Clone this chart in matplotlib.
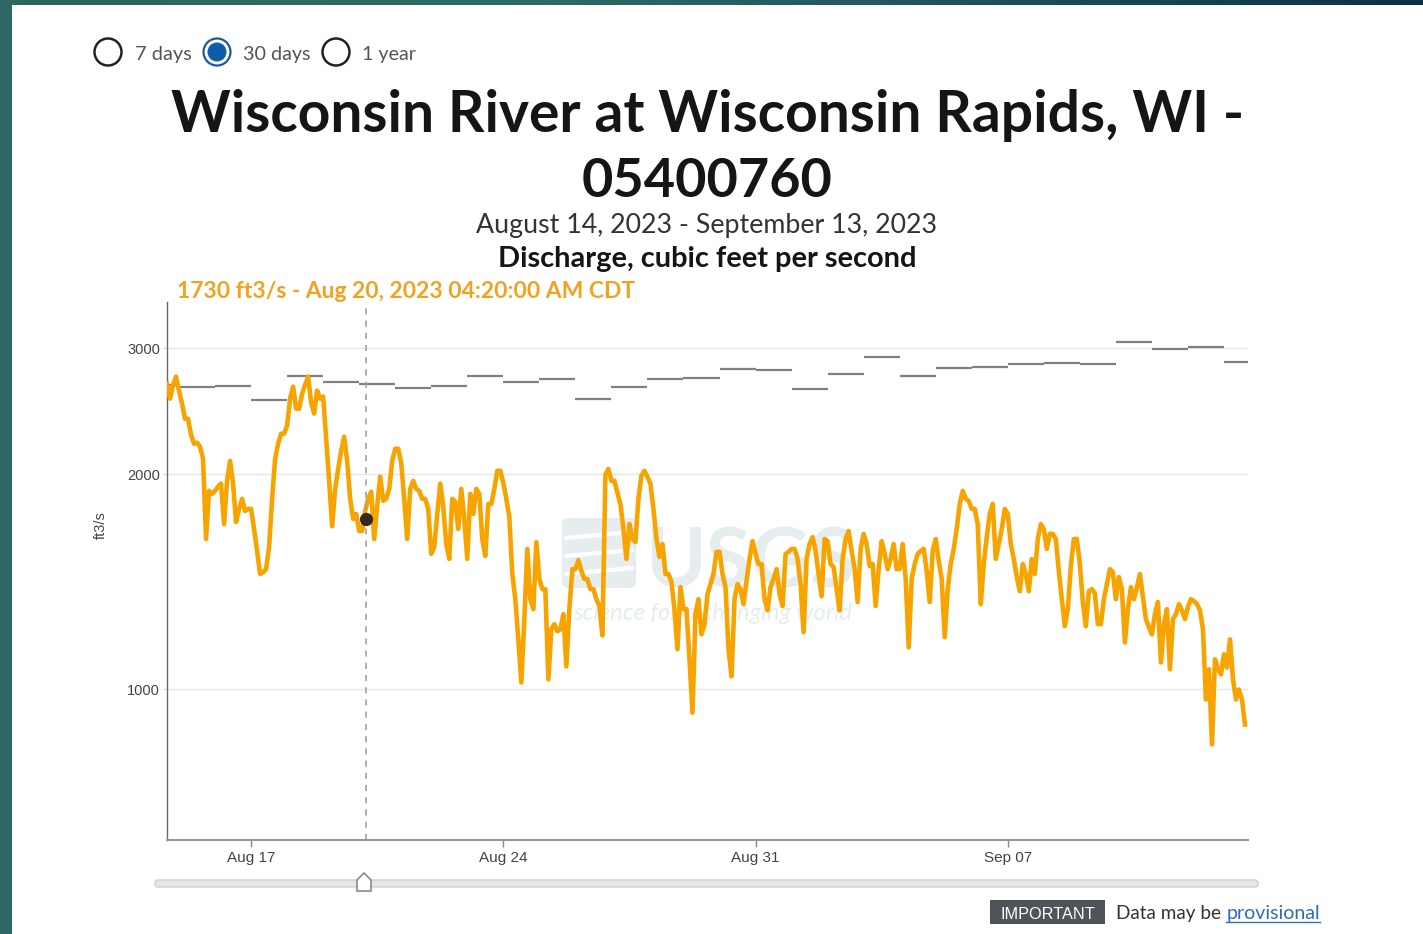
import numpy as np
import pandas as pd
import matplotlib
matplotlib.use("Agg")
import matplotlib.pyplot as plt
import matplotlib.dates as mdates
from matplotlib.colors import LinearSegmentedColormap
from matplotlib.patches import Circle, Rectangle, Polygon, FancyBboxPatch

W, H = 1423, 934

flow_start = "2023-08-14 16:00"
flow = [
    2676, 2550, 2660, 2737, 2616, 2509, 2390, 2390, 2270, 2205, 2213, 2184,
    2101, 1623, 1895, 1877, 1895, 1920, 1940, 1703, 1957, 2087, 1940, 1714,
    1788, 1847, 1776, 1788, 1788, 1676, 1562, 1450, 1459, 1473, 1582, 1847,
    2101, 2205, 2278, 2278, 2337, 2550, 2650, 2469, 2469, 2591, 2667, 2737,
    2517, 2430, 2616, 2550, 2567, 2241, 1957, 1691, 1907, 2034, 2156, 2255,
    2087, 1847, 1731, 1759, 1665, 1665, 1776, 1847, 1889, 1623, 1805, 1983,
    1835, 1847, 1907, 2087, 2170, 2170, 2074, 1847, 1623, 1907, 1957, 1907,
    1895, 1847, 1847, 1788, 1547, 1582, 1759, 1940, 1800, 1597, 1522, 1847,
    1830, 1676, 1907, 1731, 1522, 1877, 1759, 1907, 1877, 1623, 1537, 1817,
    1817, 1907, 2021, 2021, 1944, 1847, 1742, 1450, 1337, 1175, 1023, 1254,
    1572, 1337, 1295, 1607, 1427, 1381, 1381, 1033, 1214, 1234, 1206, 1214,
    1274, 1077, 1295, 1473, 1473, 1516, 1464, 1427, 1427, 1381, 1381, 1337,
    1308, 1190, 1995, 2034, 1957, 1957, 1883, 1817, 1676, 1522, 1703, 1623,
    1607, 1847, 1990, 2021, 1983, 1940, 1788, 1623, 1532, 1597, 1450, 1450,
    1413, 1295, 1138, 1390, 1295, 1295, 1102, 928, 1274, 1337, 1194, 1234,
    1359, 1404, 1450, 1557, 1557, 1450, 1390, 1138, 1043, 1337, 1404, 1381,
    1316, 1418, 1522, 1612, 1547, 1497, 1497, 1337, 1290, 1390, 1427, 1473,
    1359, 1308, 1547, 1557, 1572, 1572, 1522, 1404, 1202, 1522, 1597, 1633,
    1562, 1450, 1350, 1623, 1612, 1497, 1483, 1381, 1290, 1522, 1623, 1665,
    1562, 1473, 1325, 1572, 1650, 1597, 1488, 1497, 1308, 1473, 1612, 1547,
    1473, 1522, 1597, 1473, 1473, 1597, 1427, 1145, 1427, 1497, 1547, 1562,
    1572, 1464, 1325, 1562, 1623, 1512, 1427, 1183, 1381, 1497, 1572, 1676,
    1817, 1895, 1847, 1835, 1788, 1788, 1703, 1316, 1497, 1633, 1759, 1817,
    1522, 1597, 1676, 1788, 1759, 1597, 1522, 1436, 1372, 1497, 1450, 1372,
    1522, 1450, 1623, 1703, 1676, 1572, 1650, 1650, 1623, 1464, 1337, 1226,
    1295, 1488, 1623, 1623, 1497, 1325, 1226, 1372, 1381, 1363, 1234, 1234,
    1337, 1404, 1473, 1459, 1337, 1436, 1381, 1163, 1295, 1390, 1337, 1390,
    1450, 1346, 1254, 1222, 1194, 1274, 1325, 1091, 1234, 1295, 1067, 1254,
    1274, 1316, 1290, 1254, 1304, 1337, 1329, 1316, 1290, 1214, 968, 1067,
    838, 1102, 1067, 1050, 1120, 1073, 1175, 1033, 968, 1000, 968, 893,
]

# daily median statistic (gray segments), Aug 14 .. Sep 13
median_first_day = "2023-08-14"
median_flow = [2660, 2645, 2659, 2539, 2741, 2694, 2671, 2639, 2653, 2741,
               2688, 2717, 2547, 2650, 2717, 2729, 2809, 2800, 2628, 2761,
               2919, 2741, 2818, 2824, 2854, 2863, 2851, 3064, 2993, 3006,
               2870]

hover_time = "2023-08-20 04:20"
hover_flow = 1730

x_range = ["2023-08-14 16:00", "2023-09-13 16:00"]
y_range = [616, 3480]
ytick_vals = [1000, 2000, 3000]
xtick_days = ["2023-08-17", "2023-08-24", "2023-08-31", "2023-09-07"]
xtick_labels = ["Aug 17", "Aug 24", "Aug 31", "Sep 07"]

plt.rcParams['font.family'] = ['Liberation Sans', 'DejaVu Sans']

fig = plt.figure(figsize=(W / 100, H / 100), dpi=100)
fig.patch.set_facecolor('white')

# overlay in pixel units, drawn below the chart
ov = fig.add_axes([0, 0, 1, 1], zorder=-1)
ov.axis('off')

grad = np.linspace(0, 1, 256).reshape(1, -1)
frame_cmap = LinearSegmentedColormap.from_list(
    'frame', [(0, '#2e6661'), (0.35, '#306c67'), (0.6, '#245a5d'), (1, '#0b3145')])
ov.imshow(grad, extent=[0, W, 5, 0], aspect='auto', cmap=frame_cmap)
ov.add_patch(Rectangle((0, 0), 12, H, color='#2e6763', lw=0))
ov.set_xlim(0, W)
ov.set_ylim(H, 0)

renderer = fig.canvas.get_renderer()


def fit(x, y, s, width, **kw):
    t = ov.text(x, y, s, **kw)
    bb = t.get_window_extent(renderer=renderer)
    t.set_fontsize(t.get_fontsize() * width / bb.width)
    return t


title_font = ['Lato', 'DejaVu Sans']

# radio buttons
ov.add_patch(Circle((108, 52), 13.5, fc='white', ec='#222222', lw=1.8))
ov.add_patch(Circle((217, 52), 13.5, fc='white', ec='#1d5b9e', lw=1.6))
ov.add_patch(Circle((217, 52), 9.5, fc='#0f5ca8', ec='none'))
ov.add_patch(Circle((336, 52), 13.5, fc='white', ec='#222222', lw=1.8))
for x0, w0, lab in [(135, 57, "7 days"), (243, 68, "30 days"), (362, 54, "1 year")]:
    fit(x0, 60, lab, w0, ha='left', va='baseline', fontsize=14,
        color='#555555', family=title_font)

fit(707.5, 132, "Wisconsin River at Wisconsin Rapids, WI -", 1071,
    ha='center', va='baseline', fontsize=40, fontweight='bold',
    color='#151515', family=title_font)
fit(707, 197, "05400760", 250, ha='center', va='baseline', fontsize=40,
    fontweight='bold', color='#151515', family=title_font)
fit(706.5, 233, "August 14, 2023 - September 13, 2023", 461, ha='center',
    va='baseline', fontsize=20, color='#333333', family=title_font)
fit(707, 267, "Discharge, cubic feet per second", 420, ha='center',
    va='baseline', fontsize=20, fontweight='bold', color='#151515',
    family=title_font)
fit(177, 298, f"{hover_flow} ft3/s - Aug 20, 2023 04:20:00 AM CDT", 459,
    ha='left', va='baseline', fontsize=18, fontweight='bold',
    color='#f2a21e', family=title_font)

ov.text(101, 525, "ft3/s", rotation=90, ha='center', va='center',
        fontsize=10.5, color='#444444')

# faint USGS watermark (logo mark + wordmark)
mark = '#e5edef'
ov.add_patch(FancyBboxPatch((562, 518), 74, 70, boxstyle='round,pad=0,rounding_size=6',
                            fc=mark, ec='none'))
for yy in (538, 556, 574):
    ov.plot([566, 632], [yy, yy - 6], color='white', lw=3, solid_capstyle='round')
usgs = fit(645, 588, "USGS", 210, ha='left', va='baseline', fontsize=60,
           fontweight='bold', color=mark, family=title_font)
ub = usgs.get_window_extent(renderer=renderer)
fit(573, H - ub.y0 + 1, "science for a changing world", 280, ha='left', va='top',
    fontsize=16, style='italic', color=mark, family=title_font)

# range slider
ov.add_patch(FancyBboxPatch((155, 880), 1103, 7,
                            boxstyle='round,pad=0,rounding_size=3',
                            fc='#e6e6e6', ec='#cfcfcf', lw=1))
ov.add_patch(Polygon([(357, 891), (371, 891), (371, 880), (364, 873), (357, 880)],
                     closed=True, fc='white', ec='#8a8a8a', lw=1.2))

# provisional-data notice
ov.add_patch(Rectangle((990, 900), 115, 24, fc='#4d545a', ec='none'))
fit(1047.5, 919, "IMPORTANT", 94, ha='center', va='baseline', fontsize=13,
    color='white', family=['Liberation Sans Narrow', 'Liberation Sans'])
fit(1116, 919, "Data may be", 105, ha='left', va='baseline', fontsize=14,
    color='#333333', family=title_font)
fit(1320, 919, "provisional", 94, ha='right', va='baseline', fontsize=14,
    color='#2a6ebb', family=title_font)
ov.plot([1226, 1320], [922, 922], color='#2a6ebb', lw=1)

# main chart
ax = fig.add_axes([167 / W, 1 - 840 / H, (1248 - 167) / W, (840 - 302) / H])
ax.set_facecolor('none')

times = mdates.date2num(pd.date_range(flow_start, periods=len(flow), freq="2h"))
days = pd.date_range(median_first_day, periods=len(median_flow), freq="D")
d0 = mdates.date2num(days)
d1 = mdates.date2num(days + pd.Timedelta(days=1))
hx = mdates.date2num(pd.Timestamp(hover_time))

ax.hlines(median_flow, d0, d1, colors='#808080', lw=1.6, zorder=2)
ax.plot(times, flow, color='#f7a400', lw=3.3, zorder=3,
        solid_joinstyle='round')
ax.axvline(hx, color='#9a9a9a', lw=1.1, ls=(0, (4, 4)), zorder=4)
ax.plot([hx], [hover_flow], 'o', ms=8.5, color='#33291c', zorder=5)

ax.set_yscale('log')
ax.set_ylim(*y_range)
ax.set_xlim(mdates.date2num(pd.to_datetime(x_range)))
ax.set_yticks(ytick_vals, labels=[str(v) for v in ytick_vals])
ax.yaxis.set_minor_locator(matplotlib.ticker.NullLocator())
ax.set_xticks(mdates.date2num(pd.to_datetime(xtick_days)), labels=xtick_labels)
ax.xaxis.set_minor_locator(matplotlib.ticker.NullLocator())
ax.yaxis.grid(True, color='#e6e6e6', lw=1)
ax.set_axisbelow(True)

ax.tick_params(axis='x', direction='out', length=5, width=1, color='#888888',
               labelsize=11, labelcolor='#444444', pad=3)
ax.tick_params(axis='y', direction='out', length=3, width=1, color='#dddddd',
               labelsize=10.5, labelcolor='#444444', pad=2)

for side in ['top', 'right']:
    ax.spines[side].set_visible(False)
ax.spines['left'].set_color('#666666')
ax.spines['left'].set_linewidth(1.0)
ax.spines['bottom'].set_color('#999999')
ax.spines['bottom'].set_linewidth(1.5)

fig.savefig("out.png", dpi=100)
